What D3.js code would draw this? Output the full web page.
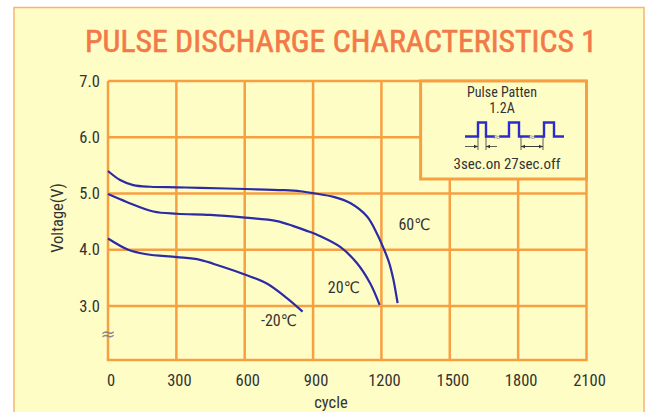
<!DOCTYPE html>
<html>
<head>
<meta charset="utf-8">
<script src="https://cdn.jsdelivr.net/npm/d3@7"></script>
<style>
  body { margin: 0; background: #fff; }
  text { font-family: "Liberation Sans Narrow", "Roboto Condensed", "DejaVu Sans Condensed", sans-serif; fill: #333; }
</style>
</head>
<body>
<script>
// Data
const xTicks = [0, 300, 600, 900, 1200, 1500, 1800, 2100];
const yTicks = [3.0, 4.0, 5.0, 6.0, 7.0];
const curve60 = [[0, 5.40], [53, 5.24], [111, 5.15], [185, 5.12], [302, 5.11], [404, 5.10], [602, 5.08], [770, 5.06], [844, 5.04], [909, 5.00], [990, 4.94], [1063, 4.83], [1137, 4.59], [1180, 4.29], [1209, 4.03], [1233, 3.78], [1252, 3.48], [1264, 3.22], [1271, 3.05]];
const curve20 = [[0, 4.99], [82, 4.85], [199, 4.68], [302, 4.64], [448, 4.62], [602, 4.57], [741, 4.51], [814, 4.42], [870, 4.34], [932, 4.24], [1019, 4.05], [1093, 3.76], [1151, 3.40], [1192, 3.02]];
const curveM20 = [[0, 4.20], [89, 4.00], [170, 3.92], [302, 3.87], [404, 3.82], [492, 3.71], [600, 3.56], [697, 3.40], [785, 3.14], [854, 2.90]];
const seriesLabels = ["60℃", "20℃", "-20℃"];
const labelPos = [[1345, 4.36], [1035, 3.24], [750, 2.65]];

const width = 647, height = 412;
const margin = { top: 81, right: 61, bottom: 52, left: 108 };

const svg = d3.select("body").append("svg")
    .attr("width", width)
    .attr("height", height);

// Frame
svg.append("rect")
    .attr("x", 14).attr("y", 7.5)
    .attr("width", 630).attr("height", 420)
    .attr("fill", "#FFFDC6")
    .attr("stroke", "#F5B574")
    .attr("stroke-width", 1.5);

// Title
svg.append("text")
    .attr("x", 341).attr("y", 52)
    .attr("text-anchor", "middle")
    .attr("font-size", 31)
    .attr("textLength", 512)
    .attr("lengthAdjust", "spacingAndGlyphs")
    .style("fill", "#F27A48")
    .style("stroke", "#F27A48")
    .style("stroke-width", 0.6)
    .text("PULSE DISCHARGE CHARACTERISTICS 1");

// Scales
const x = d3.scaleLinear().domain([0, 2100]).range([margin.left, width - margin.right + 0.5]);
const y = d3.scaleLinear().domain([3, 7]).range([306, 81]);
const yBottom = 360;

const grid = svg.append("g")
    .attr("stroke", "#F6A042")
    .attr("stroke-width", 2.5);

grid.selectAll("line.v")
    .data(xTicks)
    .join("line")
    .attr("class", "v")
    .attr("x1", d => x(d)).attr("x2", d => x(d))
    .attr("y1", y(7)).attr("y2", yBottom);

grid.selectAll("line.h")
    .data(yTicks)
    .join("line")
    .attr("class", "h")
    .attr("x1", x(0)).attr("x2", x(2100))
    .attr("y1", d => y(d)).attr("y2", d => y(d));

grid.append("line")
    .attr("x1", x(0) - 1.2).attr("x2", x(2100) + 1.2)
    .attr("y1", yBottom).attr("y2", yBottom);

// Tick labels
svg.append("g")
    .selectAll("text")
    .data(xTicks)
    .join("text")
    .attr("x", d => x(d) + 3)
    .attr("y", 386)
    .attr("text-anchor", "middle")
    .attr("font-size", 16.5)
    .text(d => d);

svg.append("g")
    .selectAll("text")
    .data(yTicks)
    .join("text")
    .attr("x", 100)
    .attr("y", d => y(d) + 5.5)
    .attr("text-anchor", "end")
    .attr("font-size", 16.5)
    .text(d => d.toFixed(1));

// Axis titles
svg.append("text")
    .attr("x", 331).attr("y", 408)
    .attr("text-anchor", "middle")
    .attr("font-size", 16.5)
    .text("cycle");

svg.append("text")
    .attr("transform", "translate(63, 218) rotate(-90)")
    .attr("text-anchor", "middle")
    .attr("font-size", 16.5)
    .text("Voltage(V)");

// Axis break mark
svg.append("text")
    .attr("x", x(0)).attr("y", 340)
    .attr("text-anchor", "middle")
    .attr("font-size", 18)
    .style("font-family", "DejaVu Sans")
    .style("fill", "#888")
    .text("≈");

// Curves
const line = d3.line()
    .x(d => x(d[0]))
    .y(d => y(d[1]))
    .curve(d3.curveCatmullRom.alpha(0.5));

svg.append("g")
    .selectAll("path")
    .data([curve60, curve20, curveM20])
    .join("path")
    .attr("d", line)
    .attr("fill", "none")
    .attr("stroke", "#2B2BA6")
    .attr("stroke-width", 2.2);

svg.append("g")
    .selectAll("text")
    .data(seriesLabels)
    .join("text")
    .attr("x", (d, i) => x(labelPos[i][0]))
    .attr("y", (d, i) => y(labelPos[i][1]))
    .attr("text-anchor", "middle")
    .attr("font-size", 16)
    .text(d => d);

// Pulse pattern legend
const box = svg.append("g");
box.append("rect")
    .attr("x", x(1372)).attr("y", y(7))
    .attr("width", x(2100) - x(1372)).attr("height", 98)
    .attr("fill", "#FFFDC6")
    .attr("stroke", "#F6A042")
    .attr("stroke-width", 3);

box.append("text")
    .attr("x", 502).attr("y", 97)
    .attr("text-anchor", "middle")
    .attr("font-size", 14)
    .text("Pulse Patten");
box.append("text")
    .attr("x", 502).attr("y", 113)
    .attr("text-anchor", "middle")
    .attr("font-size", 14)
    .text("1.2A");

const pulseLine = d3.line();
const lo = 136.5, hi = 122.5;
box.append("path")
    .attr("d", pulseLine([[465, lo], [478, lo], [478, hi], [486, hi], [486, lo], [495, lo]]) +
               pulseLine([[499, lo], [509, lo], [509, hi], [519, hi], [519, lo], [530, lo]]) +
               pulseLine([[534, lo], [544, lo], [544, hi], [554, hi], [554, lo], [564, lo]]))
    .attr("fill", "none")
    .attr("stroke", "#2B2BD0")
    .attr("stroke-width", 2.4);

box.selectAll("text.sq")
    .data([497, 532])
    .join("text")
    .attr("class", "sq")
    .attr("x", d => d).attr("y", 140)
    .attr("text-anchor", "middle")
    .attr("font-size", 10)
    .style("font-family", "DejaVu Sans")
    .style("fill", "#999")
    .text("≈");

const dim = box.append("g").attr("stroke", "#333").attr("stroke-width", 0.8);
[478, 486, 521, 543].forEach(xx => {
    dim.append("line").attr("x1", xx).attr("x2", xx).attr("y1", lo).attr("y2", 150);
});
[[465, 478], [497, 486], [521, 543], [543, 521]].forEach(([a, b]) => {
    dim.append("line").attr("x1", a).attr("x2", b).attr("y1", 146.5).attr("y2", 146.5);
    const s = Math.sign(b - a);
    dim.append("path")
        .attr("d", `M${b},146.5 L${b - 4 * s},144.8 L${b - 4 * s},148.2 Z`)
        .attr("fill", "#333").attr("stroke", "none");
});

box.append("text")
    .attr("x", 507).attr("y", 169)
    .attr("text-anchor", "middle")
    .attr("font-size", 15)
    .text("3sec.on 27sec.off");
</script>
</body>
</html>
